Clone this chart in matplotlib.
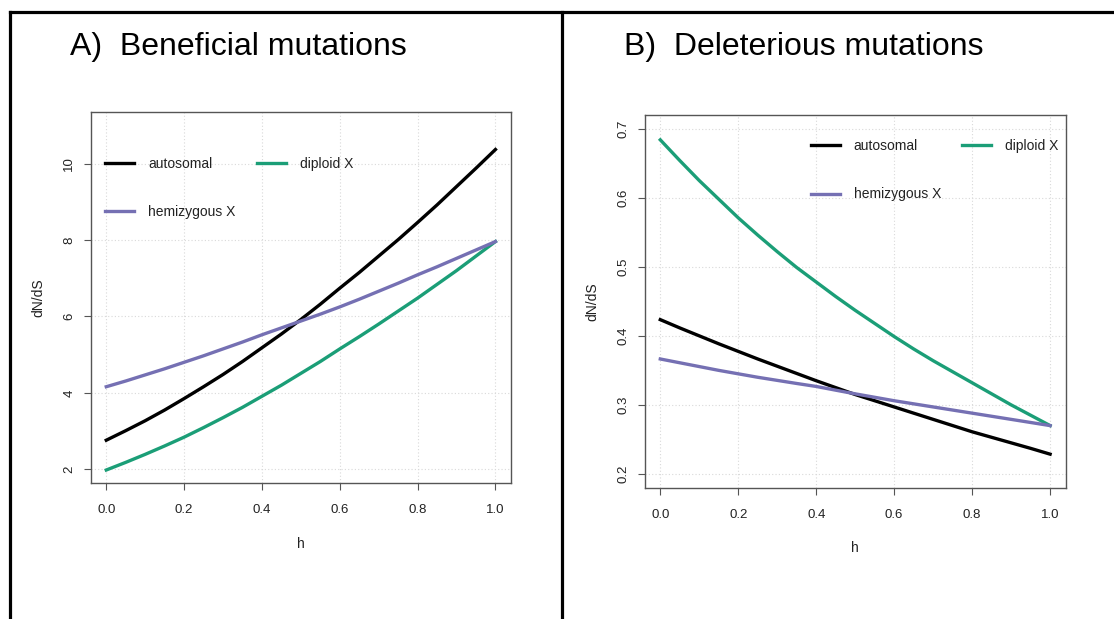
import matplotlib
matplotlib.use("Agg")
import matplotlib.pyplot as plt
from matplotlib.lines import Line2D

plt.rcParams["font.family"] = ["Liberation Sans", "DejaVu Sans"]

h = [0.0, 0.05, 0.1, 0.15, 0.2, 0.25, 0.3, 0.35, 0.4, 0.45, 0.5,
     0.55, 0.6, 0.65, 0.7, 0.75, 0.8, 0.85, 0.9, 0.95, 1.0]

# A) beneficial mutations
ben_autosomal = [2.76, 3.01, 3.27, 3.55, 3.85, 4.16, 4.48, 4.82, 5.18, 5.54, 5.92,
                 6.32, 6.74, 7.15, 7.58, 8.01, 8.46, 8.92, 9.40, 9.88, 10.37]
ben_diploid = [1.98, 2.18, 2.39, 2.61, 2.84, 3.09, 3.35, 3.62, 3.91, 4.20, 4.51,
               4.82, 5.15, 5.47, 5.80, 6.14, 6.48, 6.84, 7.20, 7.58, 7.96]
ben_hemizygous = [4.16, 4.31, 4.47, 4.63, 4.80, 4.97, 5.15, 5.33, 5.52, 5.70, 5.88,
                  6.06, 6.25, 6.45, 6.66, 6.87, 7.09, 7.30, 7.52, 7.74, 7.96]

# B) deleterious mutations
del_autosomal = [0.4235, 0.4115, 0.400, 0.3885, 0.3775, 0.3665, 0.356, 0.3455, 0.335, 0.325, 0.315,
                 0.306, 0.297, 0.288, 0.279, 0.270, 0.261, 0.253, 0.245, 0.237, 0.2286]
del_diploid = [0.684, 0.654, 0.625, 0.598, 0.571, 0.546, 0.522, 0.499, 0.478, 0.457, 0.437,
               0.418, 0.399, 0.381, 0.364, 0.348, 0.332, 0.316, 0.300, 0.285, 0.270]
del_hemizygous = [0.3665, 0.361, 0.3555, 0.350, 0.345, 0.340, 0.3355, 0.331, 0.3267, 0.3213, 0.316,
                  0.311, 0.306, 0.3015, 0.297, 0.2925, 0.288, 0.2835, 0.279, 0.2745, 0.270]

xticks = [0.0, 0.2, 0.4, 0.6, 0.8, 1.0]
ben_yticks = [2, 4, 6, 8, 10]
del_yticks = [0.2, 0.3, 0.4, 0.5, 0.6, 0.7]

C_AUTO = "black"
C_DIP = "#1B9E77"
C_HEMI = "#7570B3"

W, H = 1114, 619
fig = plt.figure(figsize=(W / 100, H / 100), dpi=100)


def px_rect(x0, y0, x1, y1):
    return [x0 / W, 1 - y1 / H, (x1 - x0) / W, (y1 - y0) / H]


def style_axes(ax, yticks, ylim, legend_loc, anchor):
    ax.set_xlim(-0.04, 1.04)
    ax.set_ylim(ylim)
    ax.set_xticks(xticks)
    ax.set_xticklabels([f"{t:.1f}" for t in xticks])
    ax.set_yticks(yticks)
    ax.set_yticklabels([f"{t:g}" for t in yticks], rotation=90, va="center")
    ax.grid(True, color="#d9d9d9", linestyle=(0, (1, 2)), linewidth=0.8)
    for s in ax.spines.values():
        s.set_color("#555555")
        s.set_linewidth(1.0)
    ax.tick_params(direction="out", length=5, width=0.8, color="#555555",
                   labelsize=9.5, labelcolor="#222222")
    ax.tick_params(axis="x", pad=10)
    ax.tick_params(axis="y", pad=6)
    ax.set_xlabel("h", fontsize=10, labelpad=15, color="#222222")
    ax.set_ylabel("dN/dS", fontsize=10, labelpad=13, color="#222222")
    handles = [Line2D([], [], color=C_AUTO, lw=2.4),
               Line2D([], [], color=C_HEMI, lw=2.4),
               Line2D([], [], color=C_DIP, lw=2.4)]
    labels = ["autosomal", "hemizygous X", "diploid X"]
    ax.legend(handles, labels, ncol=2, frameon=False, loc=legend_loc,
              bbox_to_anchor=anchor, fontsize=10, handlelength=2.1,
              handletextpad=1.0, columnspacing=1.5, labelspacing=2.5,
              labelcolor="#222222")


ax1 = fig.add_axes(px_rect(90.7, 111.7, 511, 483))
ax1.plot(h, ben_autosomal, color=C_AUTO, lw=2.4)
ax1.plot(h, ben_diploid, color=C_DIP, lw=2.4)
ax1.plot(h, ben_hemizygous, color=C_HEMI, lw=2.4)
style_axes(ax1, ben_yticks, (1.64, 11.36), "upper left", (0.005, 0.913))

ax2 = fig.add_axes(px_rect(644.7, 115, 1065.7, 487.7))
ax2.plot(h, del_autosomal, color=C_AUTO, lw=2.4)
ax2.plot(h, del_diploid, color=C_DIP, lw=2.4)
ax2.plot(h, del_hemizygous, color=C_HEMI, lw=2.4)
style_axes(ax2, del_yticks, (0.18, 0.72), "upper right", (1.012, 0.970))

fig.text(70 / W, 1 - 55 / H, "A)  Beneficial mutations", fontsize=23, va="baseline")
fig.text(624 / W, 1 - 55 / H, "B)  Deleterious mutations", fontsize=23, va="baseline")

# outer frame
frame = dict(color="black", lw=2.3, transform=fig.transFigure, solid_capstyle="projecting")
fig.add_artist(Line2D([9.5 / W, 1], [1 - 11.5 / H, 1 - 11.5 / H], **frame))
fig.add_artist(Line2D([9.5 / W, 9.5 / W], [0, 1 - 11.5 / H], **frame))
fig.add_artist(Line2D([562 / W, 562 / W], [0, 1 - 11.5 / H], **frame))

fig.savefig("out.png", dpi=100)
